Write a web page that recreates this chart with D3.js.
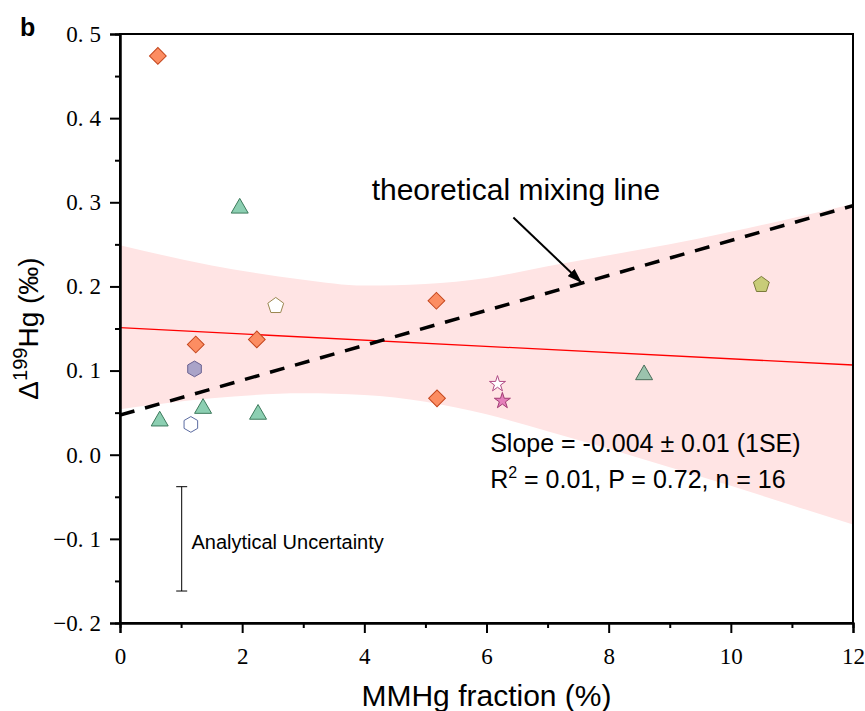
<!DOCTYPE html>
<html>
<head>
<meta charset="utf-8">
<script src="https://cdn.jsdelivr.net/npm/d3@7"></script>
<style>
body { margin: 0; background: #fff; }
svg text { font-family: "Liberation Sans", Arial, sans-serif; fill: #000; }
.axis .tick text { font-family: "Liberation Serif", "DejaVu Serif", serif; font-size: 23px; }
</style>
</head>
<body>
<svg id="chart" width="865" height="711"></svg>
<script>
// Samples: MMHg fraction (%) vs Δ199Hg (‰), one pair of arrays per marker type.
var diamond_x = [0.62, 1.24, 2.24, 5.18, 5.19];
var diamond_y = [0.474, 0.131, 0.137, 0.183, 0.067];
var triangle_x = [1.96, 1.36, 0.65, 2.26];
var triangle_y = [0.293, 0.055, 0.040, 0.048];
var triangle_grey_x = [8.58];
var triangle_grey_y = [0.095];
var hexagon_x = [1.22];
var hexagon_y = [0.102];
var hexagon_open_x = [1.16];
var hexagon_open_y = [0.036];
var pentagon_open_x = [2.55];
var pentagon_open_y = [0.177];
var pentagon_x = [10.50];
var pentagon_y = [0.202];
var star_open_x = [6.18];
var star_open_y = [0.084];
var star_x = [6.26];
var star_y = [0.064];

// Regression fit and its confidence band.
var fit_x = [0, 12];
var fit_y = [0.151, 0.1066];
var band_x = [0, 1.5, 3, 4, 5, 6, 7, 8, 9, 10, 11, 12];
var band_upper = [0.249, 0.225, 0.208, 0.201, 0.203, 0.210, 0.224, 0.237, 0.250, 0.265, 0.281, 0.298];
var band_lower = [0.054, 0.067, 0.073, 0.071, 0.063, 0.048, 0.028, 0.007, -0.015, -0.037, -0.060, -0.083];

// Theoretical mixing line.
var mix_x = [0, 12];
var mix_y = [0.047, 0.296];

// Analytical uncertainty bar (centre and extent).
var unc_x = 1.01;
var unc_lo = -0.162;
var unc_hi = -0.038;

var x_ticks = [0, 2, 4, 6, 8, 10, 12];
var x_minor = [1, 3, 5, 7, 9, 11];
var y_ticks = [-0.2, -0.1, 0.0, 0.1, 0.2, 0.3, 0.4, 0.5];
var y_minor = [-0.15, -0.05, 0.05, 0.15, 0.25, 0.35, 0.45];

var margin = { left: 120, top: 34, right: 12, bottom: 88 };
var width = 865 - margin.left - margin.right;
var height = 711 - margin.top - margin.bottom;

var x = d3.scaleLinear().domain([0, 12]).range([0, width]);
var y = d3.scaleLinear().domain([-0.2, 0.5]).range([height, 0]);

var svg = d3.select('#chart');
var g = svg.append('g').attr('transform', 'translate(' + margin.left + ',' + margin.top + ')');

svg.append('defs').append('clipPath').attr('id', 'plot-clip')
  .append('rect').attr('width', width).attr('height', height);
svg.select('defs').append('marker')
  .attr('id', 'arrow')
  .attr('markerUnits', 'userSpaceOnUse')
  .attr('markerWidth', 15).attr('markerHeight', 10)
  .attr('refX', 14).attr('refY', 5)
  .attr('orient', 'auto')
  .append('path').attr('d', 'M0,0L15,5L0,10Z').attr('fill', '#000');

var plot = g.append('g').attr('clip-path', 'url(#plot-clip)');

// Confidence band.
var band = band_x.map((v, i) => ({ x: v, lo: band_lower[i], hi: band_upper[i] }));
plot.append('path')
  .datum(band)
  .attr('fill', '#ffe4e4')
  .attr('d', d3.area()
    .x(d => x(d.x))
    .y0(d => y(d.lo))
    .y1(d => y(d.hi))
    .curve(d3.curveMonotoneX));

var line = d3.line().x(d => x(d[0])).y(d => y(d[1]));

// Regression line.
plot.append('path')
  .datum(d3.zip(fit_x, fit_y))
  .attr('fill', 'none').attr('stroke', '#ff0000').attr('stroke-width', 1.3)
  .attr('d', line);

// Theoretical mixing line.
plot.append('path')
  .datum(d3.zip(mix_x, mix_y))
  .attr('fill', 'none').attr('stroke', '#000').attr('stroke-width', 3.5)
  .attr('stroke-dasharray', '15,11')
  .attr('d', line);

// Custom marker shapes that d3 lacks.
function polygonSymbol(n, k) {
	return {
		draw: function(ctx, size) {
			var r = Math.sqrt(size / k);
			for (var i = 0; i < n; i++) {
				var a = 2 * Math.PI * i / n - Math.PI / 2;
				if (i === 0) ctx.moveTo(r * Math.cos(a), r * Math.sin(a));
				else ctx.lineTo(r * Math.cos(a), r * Math.sin(a));
			}
			ctx.closePath();
		}
	};
}
var symbolHexagon = polygonSymbol(6, 1.5 * Math.sqrt(3));
var symbolPentagon = polygonSymbol(5, 2.5 * Math.sin(2 * Math.PI / 5));

var series = [
	{ xs: diamond_x, ys: diamond_y, type: d3.symbolSquare, size: 140, rotate: 45, fill: '#fc8d62', stroke: '#c4461d' },
	{ xs: triangle_x, ys: triangle_y, type: d3.symbolTriangle, size: 125, fill: '#8ccfb2', stroke: '#3d7a5c' },
	{ xs: triangle_grey_x, ys: triangle_grey_y, type: d3.symbolTriangle, size: 125, fill: '#9bc3ad', stroke: '#4a6e5a' },
	{ xs: hexagon_x, ys: hexagon_y, type: symbolHexagon, size: 160, fill: '#aaa3c8', stroke: '#6a6190' },
	{ xs: hexagon_open_x, ys: hexagon_open_y, type: symbolHexagon, size: 160, fill: '#fff', stroke: '#5a6aa0' },
	{ xs: pentagon_open_x, ys: pentagon_open_y, type: symbolPentagon, size: 165, fill: '#fff', stroke: '#9a8750' },
	{ xs: pentagon_x, ys: pentagon_y, type: symbolPentagon, size: 165, fill: '#c8cc78', stroke: '#7a7a3a' },
	{ xs: star_open_x, ys: star_open_y, type: d3.symbolStar, size: 80, fill: '#fff', stroke: '#b04a85' },
	{ xs: star_x, ys: star_y, type: d3.symbolStar, size: 80, fill: '#e580bb', stroke: '#a03a72' }
];

series.forEach(function(s) {
	g.append('g').selectAll('path')
		.data(d3.zip(s.xs, s.ys))
		.enter().append('path')
		.attr('transform', d => 'translate(' + x(d[0]) + ',' + y(d[1]) + ')' + (s.rotate ? 'rotate(' + s.rotate + ')' : ''))
		.attr('d', d3.symbol().type(s.type).size(s.size))
		.attr('fill', s.fill)
		.attr('stroke', s.stroke)
		.attr('stroke-width', 1);
});

// Frame and axes.
g.append('rect')
  .attr('width', width).attr('height', height)
  .attr('fill', 'none').attr('stroke', '#000').attr('stroke-width', 2);

var fmt = d3.format('.1f');
var yAxis = g.append('g').attr('class', 'axis')
  .call(d3.axisLeft(y).tickValues(y_ticks).tickSize(10).tickPadding(9).tickFormat(''));
yAxis.selectAll('.tick text')
  .each(function(d) {
	var s = fmt(d).replace('-', '\u2212').split('.');
	var t = d3.select(this);
	t.text(s[0] + '.');
	t.append('tspan').attr('dx', 6).text(s[1]);
  });
g.append('g').attr('class', 'axis')
  .call(d3.axisLeft(y).tickValues(y_minor).tickSize(5).tickFormat(''));

var xAxis = g.append('g').attr('class', 'axis')
  .attr('transform', 'translate(0,' + height + ')')
  .call(d3.axisBottom(x).tickValues(x_ticks).tickSize(10).tickPadding(15).tickFormat(d3.format('d')));
g.append('g').attr('class', 'axis')
  .attr('transform', 'translate(0,' + height + ')')
  .call(d3.axisBottom(x).tickValues(x_minor).tickSize(5).tickFormat(''));

g.selectAll('.axis path.domain').attr('stroke-width', 2);
g.selectAll('.axis .tick line').attr('stroke-width', 2);

// Analytical uncertainty bar.
var unc = g.append('g').attr('stroke', '#000').attr('stroke-width', 1);
unc.append('line').attr('x1', x(unc_x)).attr('x2', x(unc_x)).attr('y1', y(unc_lo)).attr('y2', y(unc_hi));
unc.append('line').attr('x1', x(unc_x) - 5.5).attr('x2', x(unc_x) + 5.5).attr('y1', y(unc_lo)).attr('y2', y(unc_lo));
unc.append('line').attr('x1', x(unc_x) - 5.5).attr('x2', x(unc_x) + 5.5).attr('y1', y(unc_hi)).attr('y2', y(unc_hi));
g.append('text')
  .attr('x', x(1.17)).attr('y', y(-0.112))
  .style('font-size', '20px')
  .text('Analytical Uncertainty');

// Mixing line annotation.
g.append('line')
  .attr('x1', x(6.44)).attr('y1', y(0.282))
  .attr('x2', x(7.55)).attr('y2', y(0.205))
  .attr('stroke', '#000').attr('stroke-width', 2)
  .attr('marker-end', 'url(#arrow)');
g.append('text')
  .attr('x', x(4.12)).attr('y', y(0.303))
  .style('font-size', '30px')
  .text('theoretical mixing line');

// Regression statistics.
g.append('text')
  .attr('x', x(6.06)).attr('y', y(0.003))
  .style('font-size', '25px')
  .text('Slope = -0.004 \u00b1 0.01 (1SE)');
var r2 = g.append('text')
  .attr('x', x(6.06)).attr('y', y(-0.040))
  .style('font-size', '25px');
r2.append('tspan').text('R');
r2.append('tspan').attr('dy', -10).style('font-size', '16px').text('2');
r2.append('tspan').attr('dy', 10).text(' = 0.01, P = 0.72, n = 16');

// Axis titles.
svg.append('text')
  .attr('x', margin.left + width / 2).attr('y', 706)
  .attr('text-anchor', 'middle')
  .style('font-size', '30px')
  .text('MMHg fraction (%)');

var yt = svg.append('text')
  .attr('transform', 'translate(38,' + (margin.top + height / 2) + ')rotate(-90)')
  .attr('text-anchor', 'middle')
  .style('font-size', '28px');
yt.append('tspan').text('\u0394');
yt.append('tspan').attr('dy', -11).style('font-size', '20px').text('199');
yt.append('tspan').attr('dy', 11).text('Hg (\u2030)');

// Panel letter.
svg.append('text')
  .attr('x', 20).attr('y', 36)
  .style('font-size', '25px').style('font-weight', 'bold')
  .text('b');
</script>
</body>
</html>
